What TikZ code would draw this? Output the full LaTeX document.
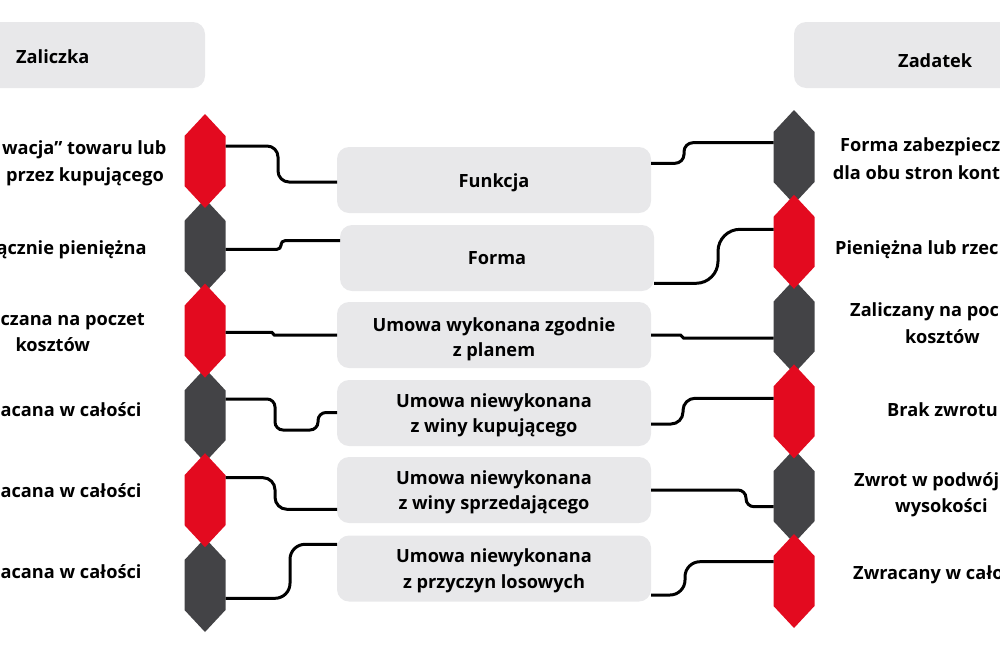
\documentclass[tikz,border=0pt]{standalone}
\usepackage{fontspec}
\setmainfont{Open Sans}
\usetikzlibrary{calc}
\definecolor{hexred}{RGB}{227,10,31}
\definecolor{hexgray}{RGB}{67,67,70}
\definecolor{boxgray}{RGB}{232,232,234}
\newcommand\hexfill[2]{\fill[#2] (#1.north) -- ($(#1.north east)!22pt!(#1.south east)$) -- ($(#1.south east)!22pt!(#1.north east)$) -- (#1.south) -- ($(#1.south west)!22pt!(#1.north west)$) -- ($(#1.north west)!22pt!(#1.south west)$) -- cycle;}
\begin{document}
\begin{tikzpicture}[x=1pt,y=-1pt,
  hexnode/.style={minimum width=41pt,minimum height=94pt,inner sep=0pt,outer sep=0pt,draw=none},
  mbox/.style={fill=boxgray,rounded corners=12pt,minimum width=314pt,minimum height=66pt,inner sep=0pt,outer sep=0pt},
  mtext/.style={inner sep=0pt,align=center,font=\bfseries\fontsize{18.2}{25.5}\selectfont},
  hbox/.style={fill=boxgray,rounded corners=12pt,minimum height=66pt,inner sep=0pt},
  lbl/.style={font=\bfseries\fontsize{18.2}{24}\selectfont,inner sep=0pt,text height=13pt,text depth=0pt},
  conn/.style={line width=3pt,black}]
\useasboundingbox (0,0) rectangle (1000,646);
\clip (0,0) rectangle (1000,646);
% headers
\node[hbox,minimum width=245pt] (HZ) at (82.5,55) {};
\node[hbox,minimum width=246pt] (HD) at (917,55) {};
\node[lbl,anchor=west] (HZt) at (16,57) {Zaliczka};
\node[lbl,anchor=west] (HDt) at (898,61) {Zadatek};
% middle boxes
\node[mbox] (B1) at (494,180) {};
\node[mbox] (B2) at (497,258) {};
\node[mbox] (B3) at (494,335) {};
\node[mbox] (B4) at (494,413) {};
\node[mbox] (B5) at (494,490) {};
\node[mbox] (B6) at (494,568.5) {};
\node[mtext] (B1t) at ([yshift=-3pt]B1.center) {Funkcja};
\node[mtext] (B2t) at (B2.center) {Forma};
\node[mtext] (B3t) at ([yshift=-4.5pt]B3.center) {Umowa wykonana zgodnie\\z planem};
\node[mtext] (B4t) at ([yshift=-2.5pt]B4.center) {Umowa niewykonana\\z winy kupującego};
\node[mtext] (B5t) at ([yshift=-2.5pt]B5.center) {Umowa niewykonana\\z winy sprzedającego};
\node[mtext] (B6t) at ([yshift=-2.5pt]B6.center) {Umowa niewykonana\\z przyczyn losowych};
% hexagon nodes
\node[hexnode] (L1) at (205,161) {};
\node[hexnode] (L2) at (205,245.8) {};
\node[hexnode] (L3) at (205,330.6) {};
\node[hexnode] (L4) at (205,415.4) {};
\node[hexnode] (L5) at (205,500.2) {};
\node[hexnode] (L6) at (205,585) {};
\node[hexnode] (R1) at (794,157) {};
\node[hexnode] (R2) at (794,241.8) {};
\node[hexnode] (R3) at (794,326.6) {};
\node[hexnode] (R4) at (794,411.4) {};
\node[hexnode] (R5) at (794,496.2) {};
\node[hexnode] (R6) at (794,581) {};
\hexfill{L2}{hexgray}\hexfill{L4}{hexgray}\hexfill{L6}{hexgray}
\hexfill{R1}{hexgray}\hexfill{R3}{hexgray}\hexfill{R5}{hexgray}
\hexfill{L1}{hexred}\hexfill{L3}{hexred}\hexfill{L5}{hexred}
\hexfill{R2}{hexred}\hexfill{R4}{hexred}\hexfill{R6}{hexred}
% left connectors
\draw[conn,rounded corners=11pt] ([yshift=15pt]L1.east) -- (278,146) -- (278,182) -- ([yshift=-2pt]B1.west);
\draw[conn,rounded corners=4pt] ([yshift=-3.5pt]L2.east) -- (281,249.3) -- (281,240.7) -- ([yshift=17.3pt]B2.west);
\draw[conn,rounded corners=1.3pt] ([yshift=-1.7pt]L3.east) -- (273,332.3) -- (273,335) -- (B3.west);
\draw[conn,rounded corners=8pt] ([yshift=16.4pt]L4.east) -- (275,399) -- (275,430) -- (318,430) -- (318,412.5) -- ([yshift=0.5pt]B4.west);
\draw[conn,rounded corners=12pt] ([yshift=22.5pt]L5.east) -- (275,477.7) -- (275,509.3) -- ([yshift=-19.3pt]B5.west);
\draw[conn,rounded corners=15pt] ([yshift=-13.3pt]L6.east) -- (290,598.3) -- (290,544.3) -- ([yshift=24.2pt]B6.west);
% right connectors
\draw[conn,rounded corners=9pt] ([yshift=16.7pt]B1.east) -- (684,163.3) -- (684,142.7) -- ([yshift=14.3pt]R1.west);
\draw[conn,rounded corners=22pt] ([yshift=-25.3pt]B2.east) -- (718,283.3) -- (718,229.3) -- ([yshift=12.5pt]R2.west);
\draw[conn,rounded corners=1.5pt] (B3.east) -- (682,335) -- (682,338) -- ([yshift=-11.4pt]R3.west);
\draw[conn,rounded corners=12pt] ([yshift=-11pt]B4.east) -- (683,424) -- (683,398.3) -- ([yshift=13.1pt]R4.west);
\draw[conn,rounded corners=8pt] (B5.east) -- (746,490) -- (746,506.7) -- ([yshift=-10.5pt]R5.west);
\draw[conn,rounded corners=15pt] ([yshift=-26.5pt]B6.east) -- (685,595) -- (685,561.7) -- ([yshift=19.3pt]R6.west);
% left labels
\node[lbl,anchor=east] (l1a) at (166.7,148) {wacja” towaru lub};
\node[lbl,anchor=east] (l1b) at (164,175) {przez kupującego};
\node[lbl,anchor=east] (l2) at (146.7,248) {ącznie pieniężna};
\node[lbl,anchor=east] (l3a) at (145,319) {czana na poczet};
\node[lbl] (l3b) at (52.8,345) {kosztów};
\node[lbl,anchor=east] (l4) at (141.7,410) {acana w całości};
\node[lbl,anchor=east] (l5) at (141.7,491) {acana w całości};
\node[lbl,anchor=east] (l6) at (141.7,572) {acana w całości};
% right labels
\node[lbl,anchor=west] (r1a) at (840,145) {Forma zabezpiecz};
\node[lbl,anchor=west] (r1b) at (832.7,173) {dla obu stron kont};
\node[lbl,anchor=west] (r2) at (835,248) {Pieniężna lub rzec};
\node[lbl,anchor=west] (r3a) at (850,310) {Zaliczany na poc};
\node[lbl,anchor=west] (r3b) at (905,337) {kosztów};
\node[lbl,anchor=west] (r4) at (887,410) {Brak zwrotu};
\node[lbl,anchor=west] (r5a) at (854,480) {Zwrot w podwój};
\node[lbl,anchor=west] (r5b) at (895,506) {wysokości};
\node[lbl,anchor=west] (r6) at (853,573) {Zwracany w cało};
\end{tikzpicture}
\end{document}
